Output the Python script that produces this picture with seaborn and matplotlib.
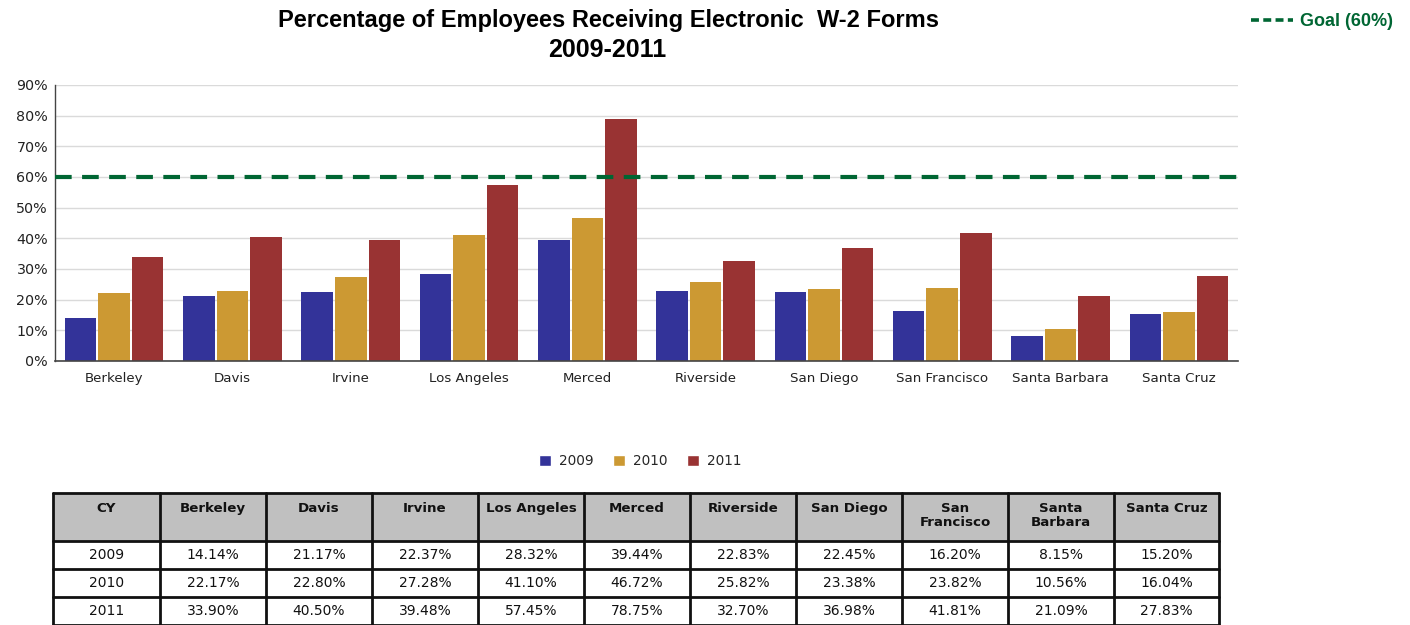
import matplotlib
matplotlib.use("Agg")
import matplotlib.pyplot as plt
from matplotlib.patches import Rectangle
from matplotlib.lines import Line2D
import seaborn as sns
import pandas as pd

campuses = ["Berkeley", "Davis", "Irvine", "Los Angeles", "Merced", "Riverside",
            "San Diego", "San Francisco", "Santa Barbara", "Santa Cruz"]
header_labels = ["Berkeley", "Davis", "Irvine", "Los Angeles", "Merced", "Riverside",
                 "San Diego", "San\nFrancisco", "Santa\nBarbara", "Santa Cruz"]
years = ["2009", "2010", "2011"]
pct_2009 = [14.14, 21.17, 22.37, 28.32, 39.44, 22.83, 22.45, 16.20, 8.15, 15.20]
pct_2010 = [22.17, 22.80, 27.28, 41.10, 46.72, 25.82, 23.38, 23.82, 10.56, 16.04]
pct_2011 = [33.90, 40.50, 39.48, 57.45, 78.75, 32.70, 36.98, 41.81, 21.09, 27.83]
goal = 60
y_ticks = [0, 10, 20, 30, 40, 50, 60, 70, 80, 90]

colors = ["#333399", "#CC9933", "#993333"]
goal_color = "#006633"

series = [pct_2009, pct_2010, pct_2011]
df = pd.DataFrame([
    {"Campus": c, "Year": y, "Pct": v}
    for y, vals in zip(years, series)
    for c, v in zip(campuses, vals)
])

sns.set_theme(style="white")
plt.rcParams["font.family"] = ["DejaVu Sans"]

fig = plt.figure(figsize=(14.1, 6.25), dpi=100)
ax = fig.add_axes([55 / 1410, 1 - 361 / 625, (1238 - 55) / 1410, (361 - 85) / 625])

sns.barplot(data=df, x="Campus", y="Pct", hue="Year", palette=colors,
            width=0.85, gap=0.06, saturation=1, ax=ax, legend=False,
            edgecolor="none", linewidth=0)

ax.set_ylim(0, 90)
ax.set_xlim(-0.5, len(campuses) - 0.5)
ax.set_yticks(y_ticks)
ax.set_yticklabels([f"{t}%" for t in y_ticks], fontsize=10.3, color="#222222")
ax.tick_params(axis="x", labelsize=9.6, colors="#222222", length=0, pad=8)
ax.tick_params(axis="y", length=0, pad=5)
ax.set_xlabel("")
ax.set_ylabel("")
ax.grid(axis="y", color="#dadada", linewidth=1)
ax.set_axisbelow(True)
for side in ["top", "right"]:
    ax.spines[side].set_visible(False)
ax.spines["left"].set_color("#444444")
ax.spines["bottom"].set_color("#444444")
ax.spines["left"].set_linewidth(1)
ax.spines["bottom"].set_linewidth(1.2)

ax.axhline(goal, color=goal_color, linestyle=(0, (4, 2.5)), linewidth=3, zorder=5)

# Title
fig.text(608 / 1410, 1 - 21 / 625, "Percentage of Employees Receiving Electronic  W-2 Forms",
         ha="center", va="center", fontsize=17, fontweight="bold",
         family="Liberation Sans", color="black")
fig.text(607 / 1410, 1 - 50 / 625, "2009-2011",
         ha="center", va="center", fontsize=18, fontweight="bold",
         family="Liberation Sans", color="black")

# Goal key in the upper right
goal_handle = Line2D([], [], color=goal_color, linestyle=(0, (2.2, 1.2)), linewidth=2.6)
leg_goal = fig.legend([goal_handle], [f"Goal ({goal}%)"], loc="center",
                      bbox_to_anchor=(1322 / 1410, 1 - 22 / 625), frameon=False,
                      handlelength=2.3, handletextpad=0.4,
                      prop={"family": "Liberation Sans", "weight": "bold", "size": 13})
for t in leg_goal.get_texts():
    t.set_color(goal_color)

# Year legend
year_handles = [Rectangle((0, 0), 1, 1, facecolor=c) for c in colors]
fig.legend(year_handles, years, loc="center", ncol=3,
           bbox_to_anchor=(640 / 1410, 1 - 461 / 625), frameon=False,
           handlelength=0.9, handleheight=0.9, handletextpad=0.6, columnspacing=1.4,
           prop={"size": 9.8})

# Data table below the chart
tab = fig.add_axes([0, 0, 1, 1], zorder=10)
tab.set_xlim(0, 1410)
tab.set_ylim(625, 0)
tab.axis("off")

col_edges = [53, 160, 266, 372, 478, 584, 690, 796, 902, 1008, 1114, 1219]
row_edges = [493, 541, 569, 597, 625]
tab.add_patch(Rectangle((col_edges[0], row_edges[0]), col_edges[-1] - col_edges[0],
                        row_edges[1] - row_edges[0], facecolor="#c0c0c0",
                        edgecolor="none"))
for x in col_edges:
    tab.plot([x, x], [row_edges[0], row_edges[-1]], color="#111111", lw=2)
for y in row_edges:
    tab.plot([col_edges[0], col_edges[-1]], [y, y], color="#111111", lw=2)

headers = ["CY"] + header_labels
for i, h in enumerate(headers):
    cx = (col_edges[i] + col_edges[i + 1]) / 2
    tab.text(cx, row_edges[0] + 9, h, ha="center", va="top", fontsize=9.6,
             fontweight="bold", color="#111111", linespacing=1.1)

for r, (y, vals) in enumerate(zip(years, series)):
    cy = (row_edges[r + 1] + row_edges[r + 2]) / 2
    tab.text((col_edges[0] + col_edges[1]) / 2, cy, y, ha="center", va="center",
             fontsize=10, color="#111111")
    for i, v in enumerate(vals):
        cx = (col_edges[i + 1] + col_edges[i + 2]) / 2
        tab.text(cx, cy, f"{v:.2f}%", ha="center", va="center", fontsize=10,
                 color="#111111")

fig.savefig("out.png", dpi=100, facecolor="white")
